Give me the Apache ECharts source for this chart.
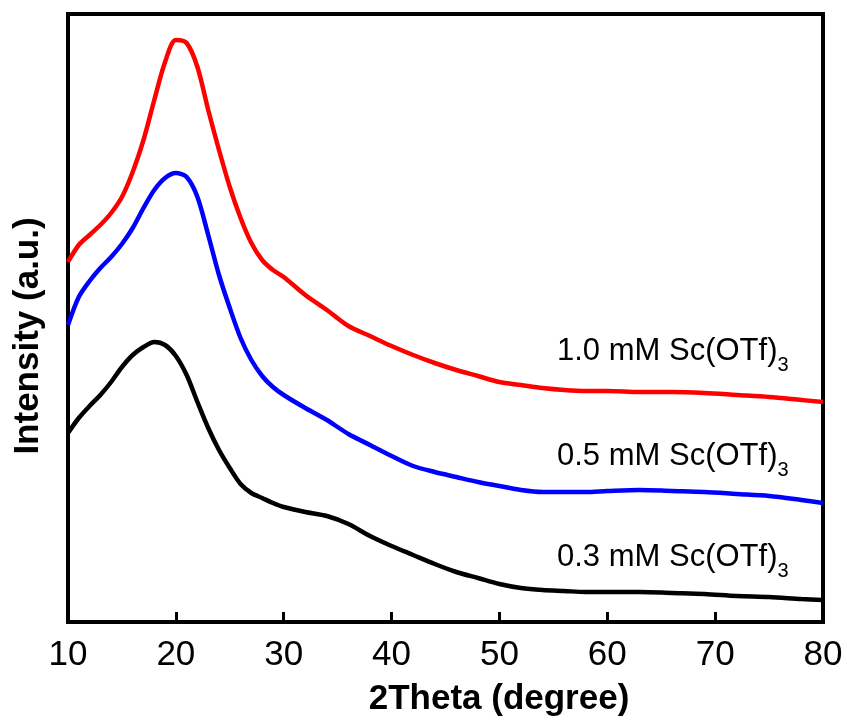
<!DOCTYPE html>
<html>
<head>
<meta charset="UTF-8">
<title>XRD</title>
<script src="https://cdn.jsdelivr.net/npm/echarts@6/dist/echarts.min.js"></script>
<style>
  html, body { margin: 0; padding: 0; background: #fff; }
  #main { width: 847px; height: 720px; }
</style>
</head>
<body>
<div id="main"></div>
<script type="text/javascript">
// 2theta (degree)
var xs = [10, 11, 12, 13, 14, 15, 16, 17, 18, 19, 20, 21, 22, 23, 24, 25, 26, 27, 28, 29, 30,
          32, 34, 36, 38, 40, 42, 44, 46, 48, 50, 52, 54, 56, 58, 60,
          63, 66, 69, 72, 75, 78, 80];
// intensity (a.u.)
var red = [360, 377, 387, 397, 409, 425, 450, 482, 522, 560, 582, 579, 555, 512, 472, 435, 404, 379, 362, 352, 345,
           327, 312, 296, 286, 276, 267, 259, 252, 246, 240, 237, 234, 232, 231, 231,
           230, 230, 229, 227, 225, 222, 220];
var blue = [297, 325, 341, 354, 365, 378, 394, 414, 432, 444, 449, 445, 425, 387, 347, 314, 284, 262, 246, 235, 227,
            214, 202, 188, 177, 166, 156, 150, 145, 140, 136, 132, 130, 130, 130, 131,
            132, 131, 130, 128, 126, 122, 119];
var black = [189, 204, 216, 227, 240, 255, 267, 275, 280, 277, 266, 247, 220, 194, 172, 154, 138, 129, 124, 119, 115,
             110, 106, 98, 86, 76, 67, 58, 50, 44, 38, 34, 32, 31, 30, 30,
             30, 29, 28, 26, 25, 23, 22];
var names = ['1.0 mM Sc(OTf)', '0.5 mM Sc(OTf)', '0.3 mM Sc(OTf)'];

function pairs(ys) {
  var out = [];
  for (var i = 0; i < xs.length; i++) out.push([xs[i], ys[i]]);
  return out;
}

var font = 'Arial, "Liberation Sans", sans-serif';
var myChart = echarts.init(document.getElementById('main'));

function curve(name, ys, color) {
  return {
    name: name,
    type: 'line',
    data: pairs(ys),
    showSymbol: false,
    smooth: 0.3,
    lineStyle: { color: color, width: 4.5 },
    itemStyle: { color: color }
  };
}

// sample label with subscript 3
function label(txt, y) {
  return {
    type: 'text',
    left: 557,
    top: y,
    style: {
      text: '{a|' + txt + '}{b|3}',
      fill: '#000',
      rich: {
        a: { fontSize: 31, fontFamily: font, lineHeight: 36, verticalAlign: 'bottom' },
        b: { fontSize: 20, fontFamily: font, lineHeight: 36, verticalAlign: 'bottom', padding: [0, 0, -8, 0] }
      }
    }
  };
}

var option = {
  animation: false,
  backgroundColor: '#fff',
  grid: { left: 68, right: 24, top: 14, bottom: 98, show: true, borderColor: '#000', borderWidth: 4 },
  xAxis: {
    type: 'value',
    min: 10,
    max: 80,
    interval: 10,
    axisLine: { show: true, lineStyle: { color: '#000', width: 4 } },
    axisTick: { show: true, inside: true, length: 10, lineStyle: { color: '#000', width: 3 } },
    axisLabel: { color: '#000', fontSize: 35, fontFamily: font, margin: 16 },
    splitLine: { show: false }
  },
  yAxis: {
    type: 'value',
    min: 0,
    max: 608,
    axisLine: { show: false },
    axisTick: { show: false },
    axisLabel: { show: false },
    splitLine: { show: false }
  },
  graphic: [
    {
      type: 'text',
      x: 499, y: 699,
      style: { text: '2Theta (degree)', fill: '#000', font: 'bold 35px ' + font, textAlign: 'center', textVerticalAlign: 'middle' }
    },
    {
      type: 'text',
      x: 28, y: 336,
      rotation: Math.PI / 2,
      style: { text: 'Intensity (a.u.)', fill: '#000', font: 'bold 35px ' + font, textAlign: 'center', textVerticalAlign: 'middle' }
    },
    label(names[0], 336),
    label(names[1], 441),
    label(names[2], 542)
  ],
  series: [
    curve(names[2], black, '#000000'),
    curve(names[1], blue, '#0000ff'),
    curve(names[0], red, '#ff0000')
  ]
};
myChart.setOption(option);
</script>
</body>
</html>
